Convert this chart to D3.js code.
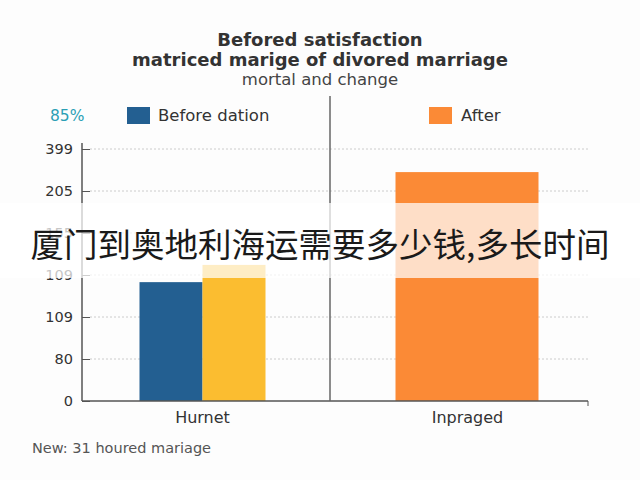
<!DOCTYPE html>
<html><head><meta charset="utf-8">
<script src="https://cdn.jsdelivr.net/npm/d3@7"></script>
<style>body{margin:0;background:#fff}svg{display:block}</style>
</head><body>
<script>
const titleLines = ["Befored satisfaction", "matriced marige of divored marriage"];
const subtitle = "mortal and change";
const categories = ["Hurnet", "Inpraged"];
const seriesNames = ["Before dation", "After"];
const beforeValues = [2.83, null];
const afterValues = [3.24, 5.45];
const tickLabels = ["0", "80", "109", "109", "155", "205", "399"];
const overlayText = "厦门到奥地利海运需要多少钱,多长时间";
const footnote = "New: 31 houred mariage";
const legendNote = "85%";

const W = 640, H = 480;
const svg = d3.select("body").append("svg").attr("width", W).attr("height", H);
const font = "'DejaVu Sans', Verdana, sans-serif";
svg.append("rect").attr("width", W).attr("height", H).attr("fill", "#fdfdfd");

// titles
svg.append("text").attr("x", 320).attr("y", 46).attr("text-anchor", "middle")
  .attr("font-family", font).attr("font-weight", "bold").attr("font-size", 18).attr("fill", "#333").text(titleLines[0]);
svg.append("text").attr("x", 320).attr("y", 66).attr("text-anchor", "middle")
  .attr("font-family", font).attr("font-weight", "bold").attr("font-size", 18).attr("fill", "#333").text(titleLines[1]);
svg.append("text").attr("x", 320).attr("y", 85).attr("text-anchor", "middle")
  .attr("font-family", font).attr("font-size", 16.5).attr("fill", "#444").text(subtitle);

const y = d3.scaleLinear().domain([0, 6]).range([401, 149]);
const x = d3.scaleBand().domain(categories).range([70, 600]);
const left = 82, right = 588;

// grid lines
svg.append("g").selectAll("line").data(d3.range(1, 7)).join("line")
  .attr("x1", 90).attr("x2", right).attr("y1", d => y(d)).attr("y2", d => y(d))
  .attr("stroke", "#ccc").attr("stroke-dasharray", "2,2").attr("stroke-width", 1);

// y axis
const yAxis = d3.axisRight(y).tickValues(d3.range(0, 7)).tickSize(8).tickFormat(() => "");
const yg = svg.append("g").attr("transform", `translate(${left},0)`).call(yAxis);
yg.select(".domain").remove();
yg.selectAll(".tick line").attr("stroke", "#555");
svg.append("line").attr("x1", left).attr("x2", left).attr("y1", 143).attr("y2", 401).attr("stroke", "#555").attr("stroke-width", 1.5);
svg.append("g").selectAll("text").data(tickLabels).join("text")
  .attr("x", 73).attr("y", (d, i) => y(i) + 5).attr("text-anchor", "end")
  .attr("font-family", font).attr("font-size", 14.5).attr("fill", "#333").text(d => d);

// bars
const colors = ["#235f91", "#fbbd30"];
const afterColor = ["#fbbd30", "#fb8a36"];
categories.forEach((c, i) => {
  const cx = x(c) + x.bandwidth() / 2;
  const hasBefore = beforeValues[i] != null;
  if (hasBefore) {
    const inner = d3.scaleBand().domain(seriesNames).range([cx - 63, cx + 63]);
    svg.append("rect").attr("x", inner(seriesNames[0])).attr("width", inner.bandwidth())
      .attr("y", y(beforeValues[i])).attr("height", y(0) - y(beforeValues[i])).attr("fill", colors[0]);
    svg.append("rect").attr("x", inner(seriesNames[1])).attr("width", inner.bandwidth())
      .attr("y", y(afterValues[i])).attr("height", y(0) - y(afterValues[i])).attr("fill", afterColor[i]);
  } else {
    svg.append("rect").attr("x", cx - 72).attr("width", 143)
      .attr("y", y(afterValues[i])).attr("height", y(0) - y(afterValues[i])).attr("fill", afterColor[i]);
  }
  svg.append("text").attr("x", cx).attr("y", 423).attr("text-anchor", "middle")
    .attr("font-family", font).attr("font-size", 16).attr("fill", "#333").text(c);
});

// x axis
svg.append("line").attr("x1", left).attr("x2", right).attr("y1", 401).attr("y2", 401).attr("stroke", "#555").attr("stroke-width", 1.5);
svg.append("line").attr("x1", right).attr("x2", right).attr("y1", 401).attr("y2", 406).attr("stroke", "#555");
// divider
svg.append("line").attr("x1", 330).attr("x2", 330).attr("y1", 96).attr("y2", 401).attr("stroke", "#666").attr("stroke-width", 1.5);

// legend
svg.append("text").attr("x", 50).attr("y", 121).attr("font-family", font).attr("font-size", 15.5).attr("fill", "#2a9fb5").text(legendNote);
svg.append("rect").attr("x", 127).attr("y", 107).attr("width", 23).attr("height", 17).attr("fill", colors[0]);
svg.append("text").attr("x", 158).attr("y", 121).attr("font-family", font).attr("font-size", 16.5).attr("fill", "#333").text(seriesNames[0]);
svg.append("rect").attr("x", 429).attr("y", 107).attr("width", 23).attr("height", 17).attr("fill", afterColor[1]);
svg.append("text").attr("x", 461).attr("y", 121).attr("font-family", font).attr("font-size", 16.5).attr("fill", "#333").text(seriesNames[1]);

// footnote
svg.append("text").attr("x", 32).attr("y", 453).attr("font-family", font).attr("font-size", 14.5).attr("fill", "#555").text(footnote);

// overlay band
svg.append("rect").attr("x", 0).attr("y", 203).attr("width", W).attr("height", 75).attr("fill", "#fff").attr("opacity", 0.72);
svg.append("text").attr("x", 320).attr("y", 257).attr("text-anchor", "middle")
  .attr("font-family", "'Noto Sans CJK SC', sans-serif").attr("font-size", 33.5).attr("fill", "#1a1a1a").text(overlayText);
</script>
</body></html>
